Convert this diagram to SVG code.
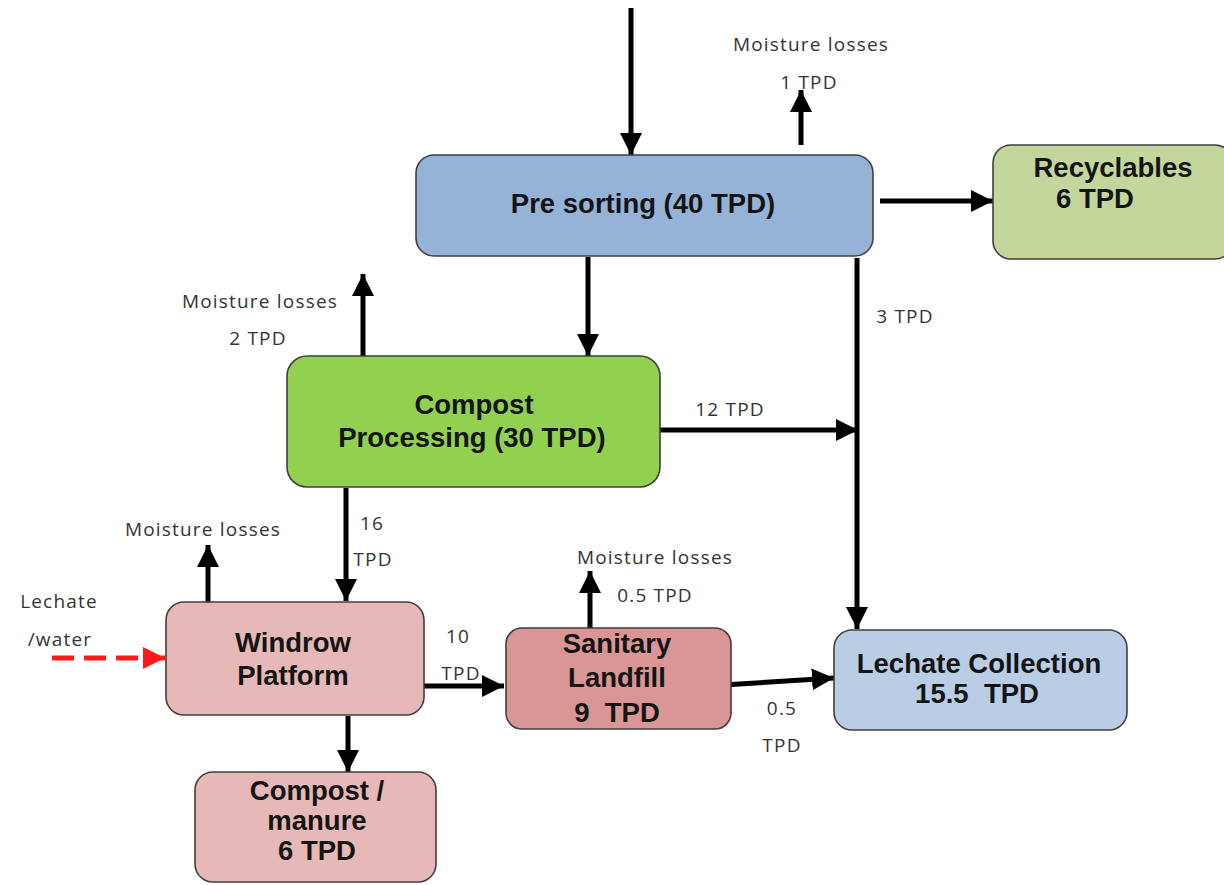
<svg xmlns="http://www.w3.org/2000/svg" width="1224" height="885" viewBox="0 0 1224 885">
  <style>
    .box { stroke: #3f3f3f; stroke-width: 1.6; }
    .lbl { font-family: "Liberation Sans", Arial, sans-serif; font-weight: bold; font-size: 27.5px; fill: #141414; text-anchor: middle; white-space: pre; }
    .note { font-family: "Open Sans", "Liberation Sans", sans-serif; font-size: 19px; letter-spacing: 1.2px; fill: #333333; text-anchor: middle; }
    .flow { stroke: #000000; stroke-width: 5; fill: none; }
    .wet { stroke: #ff1a1a; stroke-width: 5; fill: none; stroke-dasharray: 22 10; }
  </style>
  <defs>
    <marker id="head" markerUnits="userSpaceOnUse" markerWidth="24" markerHeight="24" viewBox="0 0 24 24" refX="22" refY="12" orient="auto">
      <path d="M0,1 L22,12 L0,23 Z" fill="#000000"/>
    </marker>
    <marker id="headRed" markerUnits="userSpaceOnUse" markerWidth="24" markerHeight="24" viewBox="0 0 24 24" refX="22" refY="12" orient="auto">
      <path d="M0,1 L22,12 L0,23 Z" fill="#ff1a1a"/>
    </marker>
  </defs>
  <rect width="1224" height="885" fill="#ffffff"/>

  <!-- flows between process stages -->
  <g id="connectors">
    <line class="flow" x1="631" y1="8" x2="631" y2="155" marker-end="url(#head)"/>
    <line class="flow" x1="801" y1="145" x2="801" y2="90" marker-end="url(#head)"/>
    <line class="flow" x1="880" y1="201" x2="993" y2="201" marker-end="url(#head)"/>
    <line class="flow" x1="588" y1="257" x2="588" y2="356" marker-end="url(#head)"/>
    <line class="flow" x1="857" y1="258" x2="857" y2="629" marker-end="url(#head)"/>
    <line class="flow" x1="363" y1="356" x2="363" y2="274" marker-end="url(#head)"/>
    <line class="flow" x1="660" y1="430" x2="858" y2="430" marker-end="url(#head)"/>
    <line class="flow" x1="346" y1="488" x2="346" y2="601" marker-end="url(#head)"/>
    <line class="flow" x1="208" y1="602" x2="208" y2="545" marker-end="url(#head)"/>
    <line class="wet" x1="52" y1="658" x2="165" y2="658" marker-end="url(#headRed)"/>
    <line class="flow" x1="422" y1="686" x2="504" y2="686" marker-end="url(#head)"/>
    <line class="flow" x1="590" y1="628" x2="590" y2="571" marker-end="url(#head)"/>
    <line class="flow" x1="723" y1="685" x2="834" y2="678" marker-end="url(#head)"/>
    <line class="flow" x1="348" y1="716" x2="348" y2="772" marker-end="url(#head)"/>
  </g>

  <!-- flow annotations -->
  <g id="notes">
    <text class="note" x="811" y="51">Moisture losses</text>
    <text class="note" x="809" y="89">1 TPD</text>
    <text class="note" x="905" y="323">3 TPD</text>
    <text class="note" x="260" y="308">Moisture losses</text>
    <text class="note" x="258" y="345">2 TPD</text>
    <text class="note" x="730" y="416">12 TPD</text>
    <text class="note" x="372" y="530">16</text>
    <text class="note" x="373" y="566">TPD</text>
    <text class="note" x="203" y="536">Moisture losses</text>
    <text class="note" x="59" y="608">Lechate</text>
    <text class="note" x="60" y="646">/water</text>
    <text class="note" x="458" y="643">10</text>
    <text class="note" x="461" y="680">TPD</text>
    <text class="note" x="655" y="564">Moisture losses</text>
    <text class="note" x="655" y="602">0.5 TPD</text>
    <text class="note" x="782" y="715">0.5</text>
    <text class="note" x="782" y="752">TPD</text>
  </g>

  <g id="presorting">
    <rect class="box" x="416" y="155" width="457" height="101" rx="18" fill="#95b3d7"/>
    <text class="lbl" x="643" y="213">Pre sorting (40 TPD)</text>
  </g>

  <g id="recyclables">
    <rect class="box" x="993" y="145" width="240" height="114" rx="18" fill="#c3d69b"/>
    <text class="lbl" x="1113" y="177">Recyclables</text>
    <text class="lbl" x="1095" y="208">6 TPD</text>
  </g>

  <g id="compost-processing">
    <rect class="box" x="287" y="356" width="373" height="131" rx="20" fill="#92d050"/>
    <text class="lbl" x="474" y="414">Compost</text>
    <text class="lbl" x="472" y="447">Processing (30 TPD)</text>
  </g>

  <g id="windrow">
    <rect class="box" x="166" y="602" width="258" height="113" rx="18" fill="#e6b9b8"/>
    <text class="lbl" x="293" y="652">Windrow</text>
    <text class="lbl" x="293" y="685">Platform</text>
  </g>

  <g id="landfill">
    <rect class="box" x="506" y="628" width="225" height="101" rx="16" fill="#d99694"/>
    <text class="lbl" x="617" y="653">Sanitary</text>
    <text class="lbl" x="617" y="687">Landfill</text>
    <text class="lbl" x="617" y="722">9  TPD</text>
  </g>

  <g id="lechate-collection">
    <rect class="box" x="834" y="630" width="293" height="100" rx="18" fill="#b9cde5"/>
    <text class="lbl" x="979" y="673">Lechate Collection</text>
    <text class="lbl" x="977" y="703">15.5  TPD</text>
  </g>

  <g id="compost-manure">
    <rect class="box" x="195" y="772" width="241" height="110" rx="18" fill="#e6b9b8"/>
    <text class="lbl" x="317" y="800">Compost /</text>
    <text class="lbl" x="317" y="830">manure</text>
    <text class="lbl" x="317" y="860">6 TPD</text>
  </g>
</svg>
